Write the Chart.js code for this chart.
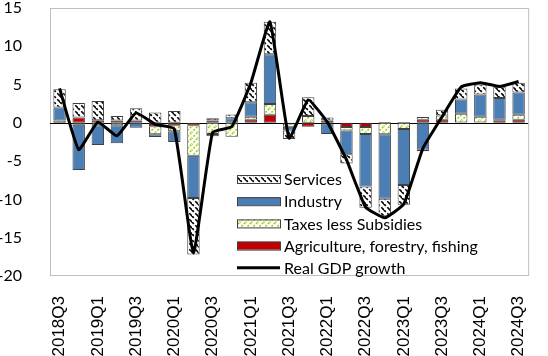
<!DOCTYPE html>
<html>
<head>
<meta charset="utf-8">
<script src="https://cdn.jsdelivr.net/npm/chart.js@4.4.1/dist/chart.umd.min.js"></script>
<style>
  html, body { margin: 0; padding: 0; background: #fff; overflow: hidden; }
  #wrap { width: 551px; height: 356px; }
</style>
</head>
<body>
<div id="wrap"><canvas id="gdp" width="551" height="356"></canvas></div>
<script>
// contributions to real GDP growth, percentage points
const quarters = ['2018Q3','2018Q4','2019Q1','2019Q2','2019Q3','2019Q4','2020Q1','2020Q2','2020Q3','2020Q4',
  '2021Q1','2021Q2','2021Q3','2021Q4','2022Q1','2022Q2','2022Q3','2022Q4','2023Q1','2023Q2',
  '2023Q3','2023Q4','2024Q1','2024Q2','2024Q3'];
const agriculture = [0, 0.7, 0.35, 0.3, 0.3, -0.45, -0.3, -0.3, 0.3, 0, 0.4, 1.05, -0.1, -0.5, 0.3,
  -0.55, -0.55, 0.1, 0.1, 0.4, 0.4, 0.05, 0.05, 0.35, 0.4];
const taxes = [0.3, -0.25, -0.3, -0.3, 0, -1.05, -0.8, -4.0, -1.45, -1.8, 0.4, 1.4, -0.4, 0.9, -0.1,
  -0.45, -0.9, -1.5, -0.8, 0.35, 0.55, 1.15, 0.75, 0.05, 0.65];
const industry = [1.7, -5.9, -2.6, -2.35, -0.65, -0.35, -1.4, -5.5, -0.3, 0.6, 1.9, 6.5, -0.5, 0, -1.35,
  -3.1, -6.85, -8.4, -7.3, -3.5, 0, 1.85, 2.9, 2.85, 2.9];
const services = [2.4, 1.9, 2.5, 0.6, 1.6, 1.35, 1.55, -7.4, 0.3, 0.5, 2.55, 4.25, -1.1, 2.45, 0.4,
  -1.2, -2.8, -2.3, -2.6, -0.2, 0.75, 1.45, 1.3, 1.45, 1.3];
const gdpGrowth = [4.5, -3.5, 0.1, -1.7, 1.3, -0.2, -0.8, -17.0, -1.25, -0.5, 5.2, 13.2, -2.0, 3.0, 0.1,
  -4.8, -11.0, -12.4, -10.6, -3.3, 0.8, 4.7, 5.25, 4.75, 5.4];
const yTicks = { min: -20, max: 15, step: 5 };

// small diagonal hatch tiles
function hatch(color, down, dash) {
  const c = document.createElement('canvas');
  c.width = 6; c.height = 6;
  const g = c.getContext('2d');
  g.fillStyle = '#fff';
  g.fillRect(0, 0, 6, 6);
  g.strokeStyle = color;
  g.lineWidth = 1.6;
  if (dash) g.setLineDash(dash);
  g.beginPath();
  if (down) {
    g.moveTo(-1, -1); g.lineTo(7, 7);
    g.moveTo(-4, 2); g.lineTo(1, 7);
    g.moveTo(5, -1); g.lineTo(8, 2);
  } else {
    g.moveTo(-1, 7); g.lineTo(7, -1);
    g.moveTo(-1, 1); g.lineTo(1, -1);
    g.moveTo(5, 7); g.lineTo(7, 5);
  }
  g.stroke();
  return g.createPattern(c, 'repeat');
}

const servicesFill = hatch('#000', true, [4, 2]);
const taxesFill = hatch('#9ACD00', false, [2, 1.5]);

const barStyle = { borderColor: '#404040', borderWidth: 1, borderSkipped: false, order: 1, stack: 'bars' };

// frame, zero line and in-plot legend
const decor = {
  id: 'decor',
  beforeDatasetsDraw(chart) {
    const { ctx, chartArea: a, scales: { y } } = chart;
    ctx.save();
    ctx.strokeStyle = '#BFBFBF';
    ctx.lineWidth = 1;
    ctx.strokeRect(a.left + 0.5, a.top + 0.5, a.width, a.height - 1);
    const y0 = Math.round(y.getPixelForValue(0)) + 0.5;
    ctx.strokeStyle = '#000';
    ctx.beginPath();
    ctx.moveTo(a.left, y0);
    ctx.lineTo(a.right, y0);
    ctx.stroke();
    ctx.restore();
  },
  afterDraw(chart) {
    const { ctx } = chart;
    const ds = chart.data.datasets;
    const items = [ds[3], ds[2], ds[1], ds[0], ds[4]];
    const x0 = 237, w = 43, top = 179, gap = 22.2;
    ctx.save();
    ctx.font = '16px Lato';
    ctx.textBaseline = 'middle';
    items.forEach((d, i) => {
      const cy = top + i * gap;
      if (d.type === 'line') {
        ctx.strokeStyle = d.borderColor;
        ctx.lineWidth = 3;
        ctx.beginPath();
        ctx.moveTo(x0, cy);
        ctx.lineTo(x0 + w, cy);
        ctx.stroke();
      } else {
        ctx.fillStyle = d.backgroundColor;
        ctx.fillRect(x0, cy - 4, w, 8);
        ctx.strokeStyle = '#404040';
        ctx.lineWidth = 1;
        ctx.strokeRect(x0 + 0.5, cy - 3.5, w, 8);
      }
      ctx.fillStyle = '#000';
      ctx.fillText(d.label, x0 + w + 4, cy + 1);
    });
    ctx.restore();
  }
};

new Chart(document.getElementById('gdp'), {
  data: {
    labels: quarters,
    datasets: [
      { type: 'bar', label: 'Agriculture, forestry, fishing', data: agriculture, backgroundColor: '#C00000', ...barStyle },
      { type: 'bar', label: 'Taxes less Subsidies', data: taxes, backgroundColor: taxesFill, ...barStyle },
      { type: 'bar', label: 'Industry', data: industry, backgroundColor: '#4A7EB5', ...barStyle },
      { type: 'bar', label: 'Services', data: services, backgroundColor: servicesFill, ...barStyle },
      { type: 'line', label: 'Real GDP growth', data: gdpGrowth, borderColor: '#000', borderWidth: 3,
        pointRadius: 0, tension: 0.12, fill: false, order: 0, stack: 'line' }
    ]
  },
  options: {
    responsive: false,
    animation: false,
    devicePixelRatio: 1,
    layout: { padding: { top: 8, right: 0, bottom: 0, left: 0 } },
    datasets: { bar: { barPercentage: 0.65, categoryPercentage: 1 } },
    plugins: { legend: { display: false }, tooltip: { enabled: false } },
    scales: {
      x: {
        stacked: true,
        offset: true,
        grid: { display: false },
        border: { display: false },
        ticks: {
          autoSkip: false, minRotation: 90, maxRotation: 90, padding: 12, color: '#000',
          font: { family: 'Liberation Sans', size: 17 },
          callback(v, i) { return i % 2 === 0 ? this.getLabelForValue(v) : ''; }
        },
        afterFit(s) { s.height = 80; }
      },
      y: {
        stacked: true,
        min: yTicks.min, max: yTicks.max,
        grid: { display: false },
        border: { display: false },
        ticks: { stepSize: yTicks.step, padding: 20, color: '#000', font: { family: 'Lato', size: 16, lineHeight: 1 } },
        afterFit(s) {
          s.width = 50;
          // tick padding would otherwise push the plot down
          s.paddingTop = 0;
          s.paddingBottom = 0;
        }
      }
    }
  },
  plugins: [decor]
});
</script>
</body>
</html>
